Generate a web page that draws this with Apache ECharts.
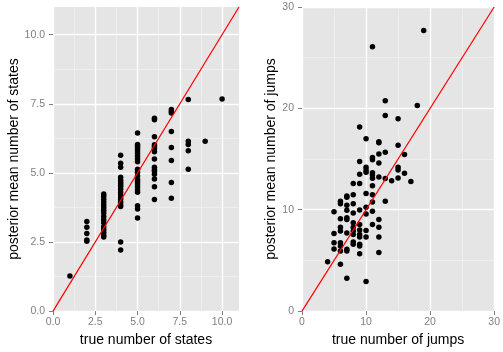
<!DOCTYPE html>
<html>
<head>
<meta charset="utf-8">
<script src="https://cdn.jsdelivr.net/npm/echarts@6/dist/echarts.min.js"></script>
<style>
  html, body { margin: 0; padding: 0; background: #fff; }
  #chart { width: 503px; height: 352px; }
</style>
</head>
<body>
<div id="chart"></div>
<script>
// left panel: number of states (true value, posterior mean)
const statesTrue = [
  1,
  2, 2, 2, 2, 2,
  3, 3, 3, 3, 3, 3, 3, 3, 3, 3, 3, 3, 3, 3, 3, 3,
  4, 4, 4, 4, 4, 4, 4, 4, 4, 4, 4, 4, 4, 4, 4, 4, 4, 4, 4,
  5, 5, 5, 5, 5, 5, 5, 5, 5, 5, 5, 5, 5, 5, 5, 5, 5, 5, 5, 5, 5,
  6, 6, 6, 6, 6, 6, 6, 6, 6, 6, 6, 6, 6, 6, 6,
  7, 7, 7, 7, 7, 7, 7, 7,
  8, 8, 8, 8, 8,
  9,
  10
];
const statesPosterior = [
  1.27,
  3.24, 3.03, 2.81, 2.57, 2.53,
  4.24, 4.15, 4.05, 3.95, 3.85, 3.75, 3.65, 3.55, 3.42, 3.3, 3.2, 3.05, 2.95, 2.85, 2.75, 2.68,
  5.64, 5.35, 5.2, 4.84, 4.74, 4.68, 4.62, 4.55, 4.5, 4.41, 4.3, 4.2, 4.1, 4.04, 3.94, 3.85, 3.78, 2.5, 2.21,
  6.44, 6.03, 5.96, 5.88, 5.8, 5.7, 5.6, 5.5, 5.4, 5.13, 5.02, 4.89, 4.75, 4.68, 4.6, 4.5, 4.38, 4.3, 3.81, 3.69, 3.37,
  6.98, 6.92, 6.31, 6.02, 5.95, 5.88, 5.76, 5.5, 5.2, 5.12, 5.06, 4.95, 4.78, 4.5, 4.04,
  7.29, 7.22, 7.17, 6.5, 5.92, 5.45, 4.65, 4.08,
  7.65, 6.14, 6.03, 5.8, 5.13,
  6.14,
  7.67
];

// right panel: number of jumps (true value, posterior mean)
const jumpsTrue = [
  4,
  5, 5, 5, 5,
  6, 6, 6, 6, 6, 6, 6, 6, 6,
  7, 7, 7, 7, 7, 7, 7, 7, 7, 7,
  8, 8, 8, 8, 8, 8, 8, 8, 8, 8,
  9, 9, 9, 9, 9, 9, 9, 9, 9, 9, 9, 9,
  10, 10, 10, 10, 10, 10, 10, 10, 10, 10,
  11, 11, 11, 11, 11, 11, 11, 11, 11, 11, 11,
  12, 12, 12, 12, 12, 12, 12, 12, 12,
  13, 13, 13, 13, 13,
  14,
  15, 15, 15, 15, 15,
  16, 16,
  17,
  18,
  19
];
const jumpsPosterior = [
  4.86,
  6.13, 6.75, 7.66, 9.8,
  4.63, 5.93, 6.42, 6.75, 7.9, 8.28, 9.1, 10.6, 10.83,
  3.23, 5.93, 6.1, 7.7, 9.03, 9.2, 9.95, 10.43, 11.22, 11.35,
  6.59, 6.81, 7.56, 7.9, 8.28, 8.71, 9.68, 10.6, 11.48, 12.59,
  5.67, 6.42, 6.59, 7.3, 7.56, 7.99, 8.54, 9.98, 12.59, 13.5, 14.77, 18.16,
  2.93, 7.3, 7.96, 9.59, 10.24, 11.6, 13.7, 13.92, 14.2, 17.0,
  8.54, 9.85, 10.76, 11.48, 12.36, 13.1, 13.43, 13.66, 14.93, 15.16, 26.08,
  5.77, 7.3, 8.28, 9.03, 13.24, 14.6, 15.5, 16.6, 16.7,
  10.83, 13.07, 15.68, 19.3, 20.74,
  12.85,
  13.14, 13.92, 14.18, 16.37, 18.98,
  13.6, 15.45,
  12.78,
  20.28,
  27.68
];

const statesTicks = [0, 2.5, 5, 7.5, 10];
const jumpsTicks = [0, 10, 20, 30];

const statesLimits = [0, 11];
const jumpsLimits = [0, 30];

const chart = echarts.init(document.getElementById('chart'));

const panelBg = '#e5e5e5';
const tickGrey = '#7f7f7f';
const font = '"Liberation Sans", Arial, sans-serif';

function makeAxis(gridIndex, name, limits, interval, ticks, isY, gap, fmt) {
  return {
    type: 'value',
    gridIndex,
    min: limits[0],
    max: limits[1],
    interval,
    name,
    nameLocation: 'middle',
    nameGap: gap,
    nameTextStyle: { color: '#000', fontSize: 14, fontFamily: font },
    axisLine: { show: false },
    axisTick: {
      show: true,
      length: 4,
      customValues: ticks,
      lineStyle: { color: tickGrey, width: 1 }
    },
    axisLabel: {
      color: tickGrey,
      fontSize: 10.5,
      fontFamily: font,
      margin: isY ? 8 : 6,
      customValues: ticks,
      formatter: fmt
    },
    splitLine: { show: true, lineStyle: { color: '#ffffff', width: 1.4 } },
    minorTick: { show: false, splitNumber: 2 },
    minorSplitLine: { show: true, lineStyle: { color: '#f2f2f2', width: 0.7 } }
  };
}

const fmtOne = v => v.toFixed(1);
const fmtInt = v => String(Math.round(v));

const option = {
  animation: false,
  backgroundColor: '#ffffff',
  grid: [
    { left: 53, right: 264, top: 7, bottom: 38, show: true, backgroundColor: panelBg, borderWidth: 0 },
    { left: 302, right: 6, top: 7, bottom: 38, show: true, backgroundColor: panelBg, borderWidth: 0 }
  ],
  xAxis: [
    makeAxis(0, 'true number of states', statesLimits, 2.5, statesTicks, false, 17, fmtOne),
    makeAxis(1, 'true number of jumps', jumpsLimits, 10, jumpsTicks, false, 17, fmtInt)
  ],
  yAxis: [
    makeAxis(0, 'posterior mean number of states', statesLimits, 2.5, statesTicks, true, 29, fmtOne),
    makeAxis(1, 'posterior mean number of jumps', jumpsLimits, 10, jumpsTicks, true, 18, fmtInt)
  ],
  series: [
    {
      type: 'scatter',
      xAxisIndex: 0,
      yAxisIndex: 0,
      symbolSize: 5.5,
      itemStyle: { color: '#000', opacity: 1 },
      data: statesTrue.map((x, i) => [x, statesPosterior[i]])
    },
    {
      type: 'line',
      xAxisIndex: 0,
      yAxisIndex: 0,
      showSymbol: false,
      lineStyle: { color: '#ff0000', width: 1.2 },
      data: [[statesLimits[0], statesLimits[0]], [statesLimits[1], statesLimits[1]]],
      z: 3
    },
    {
      type: 'scatter',
      xAxisIndex: 1,
      yAxisIndex: 1,
      symbolSize: 5.5,
      itemStyle: { color: '#000', opacity: 1 },
      data: jumpsTrue.map((x, i) => [x, jumpsPosterior[i]])
    },
    {
      type: 'line',
      xAxisIndex: 1,
      yAxisIndex: 1,
      showSymbol: false,
      lineStyle: { color: '#ff0000', width: 1.2 },
      data: [[jumpsLimits[0], jumpsLimits[0]], [jumpsLimits[1], jumpsLimits[1]]],
      z: 3
    }
  ]
};

chart.setOption(option);
</script>
</body>
</html>
